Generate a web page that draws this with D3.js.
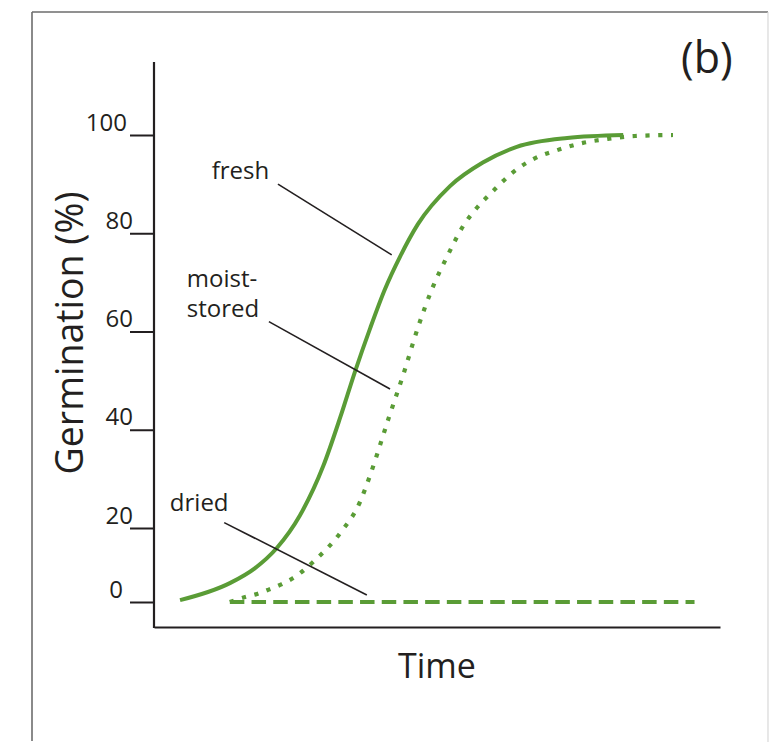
<!DOCTYPE html>
<html>
<head>
<meta charset="utf-8">
<script src="https://cdn.jsdelivr.net/npm/d3@7"></script>
<style>
  html, body { margin: 0; padding: 0; background: #fff; }
  svg { display: block; }
  text { font-family: "Open Sans", "Noto Sans", sans-serif; fill: #231f20; }
</style>
</head>
<body>
<svg id="chart" width="769" height="742"></svg>
<script>
// ---- data ----
const yTicks = [0, 20, 40, 60, 80, 100];
const yTickLabels = ["0", "20", "40", "60", "80", "100"];

const freshTime   = [0.46, 1.34, 1.78, 2.17, 2.58, 2.99, 3.29, 3.55, 3.82, 4.08, 4.35, 4.66, 5.23, 5.81, 6.41, 7.30, 8.29];
const freshValue  = [0.5, 5.1, 9.1, 14.6, 22.6, 32.6, 42.5, 51.8, 60.7, 68.6, 75.3, 81.8, 89.6, 94.4, 97.6, 99.4, 100];

const moistTime   = [1.34, 1.61, 1.82, 2.01, 2.26, 2.46, 2.63, 2.81, 3.29, 3.64, 3.82, 4.15, 4.42, 4.66, 4.91, 5.18, 5.48, 5.67, 5.99, 6.33, 6.70, 7.12, 7.58, 8.02, 8.50, 9.17];
const moistValue  = [0, 1.35, 2.16, 3.24, 4.86, 6.49, 8.38, 10.8, 18.65, 25.3, 30.8, 42.5, 51.8, 60.7, 68.6, 75.3, 81.8, 84.7, 88.6, 92.3, 95.1, 96.9, 98.4, 99.2, 99.8, 100];

const driedTime   = [1.34, 9.55];
const driedValue  = [0, 0];

const seriesNames = ["fresh", "moist-stored", "dried"];

// annotation labels (data units): text lines, text anchor, leader start, leader end
const labelLines  = [["fresh"], ["moist-", "stored"], ["dried"]];
const labelAt     = [[1.02, 91.0], [0.58, 69.1], [0.28, 23.5]];
const leaderFrom  = [[2.19, 90.0], [2.03, 62.0], [1.24, 21.1]];
const leaderTo    = [[4.20, 75.6], [4.17, 48.3], [3.76, 1.9]];

const xTitle = "Time";
const yTitle = "Germination (%)";
const panelTag = "(b)";

// ---- drawing ----
const svg = d3.select("#chart");
const green = "#5a9c36";
const ink = "#231f20";

// frame
svg.append("line").attr("x1", 32).attr("y1", 12).attr("x2", 32).attr("y2", 741)
  .attr("stroke", "#6d6d6d").attr("stroke-width", 1.6);
svg.append("line").attr("x1", 32).attr("y1", 12).attr("x2", 768).attr("y2", 12)
  .attr("stroke", "#6d6d6d").attr("stroke-width", 1.6);
svg.append("line").attr("x1", 768).attr("y1", 12).attr("x2", 768).attr("y2", 742)
  .attr("stroke", "#d8d8d8").attr("stroke-width", 1.2);

const x = d3.scaleLinear().domain([0, 10]).range([154, 720]);
const y = d3.scaleLinear().domain([0, 20, 100]).range([602, 528, 135]);

// y axis
const labelShift = d => (d === 100 ? -27 : d === 0 ? -31 : -21);
const yAxis = d3.axisLeft(y).tickValues(yTicks)
  .tickFormat((d, i) => yTickLabels[i]).tickSize(24).tickSizeOuter(0);
const gy = svg.append("g").attr("transform", "translate(154,0)").call(yAxis);
gy.select(".domain").remove();
gy.selectAll(".tick line").attr("stroke", ink).attr("stroke-width", 2);
gy.selectAll(".tick text").attr("x", d => labelShift(d)).attr("dy", null).attr("y", -5)
  .attr("text-anchor", "end").style("font-size", "24px")
  .style("font-family", '"Open Sans", sans-serif').attr("fill", ink);
svg.append("line").attr("x1", 154).attr("x2", 154).attr("y1", 62).attr("y2", 628)
  .attr("stroke", ink).attr("stroke-width", 2.2);

// x axis
const xAxis = d3.axisBottom(x).tickValues([]).tickSizeOuter(0);
const gx = svg.append("g").attr("transform", "translate(0,627)").call(xAxis);
gx.select(".domain").attr("stroke", ink).attr("stroke-width", 2.2);

// titles
svg.append("text").attr("x", 437).attr("y", 678).attr("text-anchor", "middle")
  .style("font-size", "34px").text(xTitle);
svg.append("text").attr("transform", "translate(83,333) rotate(-90)")
  .attr("text-anchor", "middle").style("font-size", "37.5px").text(yTitle);
svg.append("text").attr("x", 681).attr("y", 73).style("font-size", "43px").text(panelTag);

// series
const line = d3.line().x(d => x(d[0])).y(d => y(d[1])).curve(d3.curveMonotoneX);
const zip = (a, b) => a.map((v, i) => [v, b[i]]);

svg.append("path").datum(zip(driedTime, driedValue)).attr("d", line)
  .attr("fill", "none").attr("stroke", green).attr("stroke-width", 4)
  .attr("stroke-dasharray", "14.5 7.2");
svg.append("path").datum(zip(moistTime, moistValue)).attr("d", line)
  .attr("fill", "none").attr("stroke", green).attr("stroke-width", 4.2)
  .attr("stroke-dasharray", "4.2 8.6");
svg.append("path").datum(zip(freshTime, freshValue)).attr("d", line)
  .attr("fill", "none").attr("stroke", green).attr("stroke-width", 4);

// annotations
labelLines.forEach((lines, i) => {
  const t = svg.append("text").attr("x", x(labelAt[i][0])).attr("y", y(labelAt[i][1]))
    .style("font-size", "24px");
  lines.forEach((s, j) => {
    t.append("tspan").attr("x", x(labelAt[i][0])).attr("dy", j === 0 ? 0 : 30).text(s);
  });
  svg.append("line")
    .attr("x1", x(leaderFrom[i][0])).attr("y1", y(leaderFrom[i][1]))
    .attr("x2", x(leaderTo[i][0])).attr("y2", y(leaderTo[i][1]))
    .attr("stroke", ink).attr("stroke-width", 1.6);
});
</script>
</body>
</html>
